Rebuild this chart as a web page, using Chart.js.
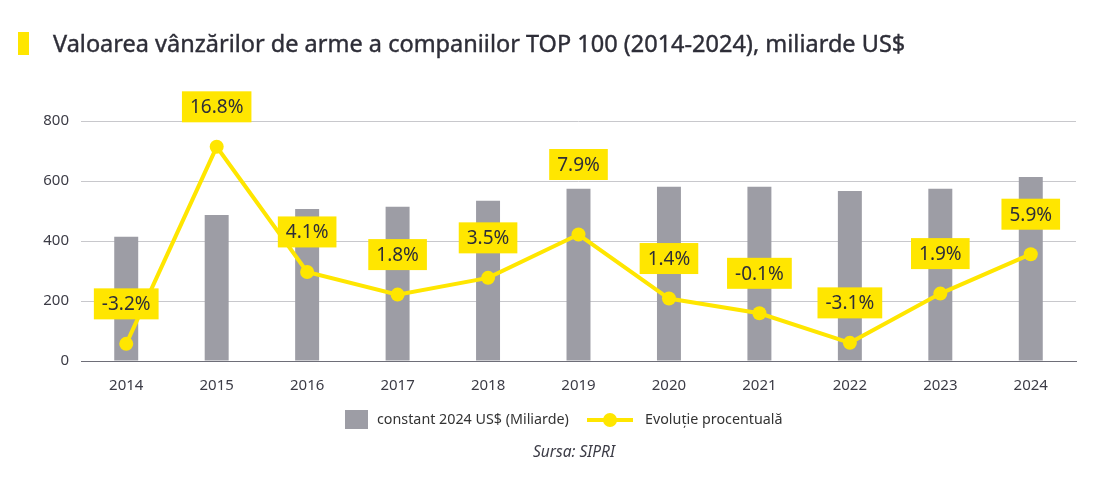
<!DOCTYPE html>
<html lang="ro">
<head>
<meta charset="UTF-8">
<title>Valoarea vânzărilor de arme a companiilor TOP 100</title>
<script src="https://cdn.jsdelivr.net/npm/chart.js"></script>
<style>
  body { margin: 0; background: #fff; font-family: "Noto Sans", sans-serif; }
  #wrap { position: relative; width: 1107px; height: 484px; overflow: hidden; }
  #salesChart { position: absolute; left: 0; top: 0; }
  .title { position: absolute; left: 53px; top: 27px; font-size: 23.5px; font-weight: 400; -webkit-text-stroke: 0.4px #2e2e38; color: #2e2e38; white-space: nowrap; }
  .title-mark { position: absolute; left: 18px; top: 32px; width: 11px; height: 23px; background: #ffe600; }
  .legend { position: absolute; top: 409px; left: 345px; font-size: 14.3px; color: #333; white-space: nowrap; }
  .legend span { position: absolute; top: 0; }
  .box { left: 0; width: 23px; height: 19px; background: #9d9da5; margin-top: 1px; }
  .lg-line { left: 242px; top: 9px !important; width: 46px; height: 4px; background: #ffe600; }
  .lg-dot { left: 258px; top: 4px !important; width: 14px; height: 14px; border-radius: 50%; background: #ffe600; }
  .source { position: absolute; top: 440px; left: 0; width: 1148px; text-align: center; font-size: 15.5px; font-style: italic; color: #3c3c46; }
</style>
</head>
<body>
<div id="wrap">
  <canvas id="salesChart" width="1107" height="484"></canvas>
  <div class="title-mark"></div>
  <div class="title">Valoarea vânzărilor de arme a companiilor TOP 100 (2014-2024), miliarde US$</div>
  <div class="legend">
    <span class="box"></span>
    <span style="left:32px; top:0;">constant 2024 US$ (Miliarde)</span>
    <span class="lg-line"></span>
    <span class="lg-dot"></span>
    <span style="left:300px; top:0;">Evoluție procentuală</span>
  </div>
  <div class="source">Sursa: SIPRI</div>
</div>
<script>
const years = ['2014', '2015', '2016', '2017', '2018', '2019', '2020', '2021', '2022', '2023', '2024'];
const salesBn = [414, 487, 507, 514, 534, 574, 581, 581, 567, 574, 613];
const growthPct = [-3.2, 16.8, 4.1, 1.8, 3.5, 7.9, 1.4, -0.1, -3.1, 1.9, 5.9];
const yTicks = [0, 200, 400, 600, 800];

const YELLOW = '#ffe600';
const GREY = '#9d9da5';

// yellow boxes with the percent values above each point
const pctLabels = {
  id: 'pctLabels',
  afterDatasetsDraw(chart) {
    const ctx = chart.ctx;
    const meta = chart.getDatasetMeta(1);
    ctx.save();
    ctx.font = '19px "Noto Sans"';
    ctx.textAlign = 'center';
    ctx.textBaseline = 'middle';
    meta.data.forEach((pt, i) => {
      const txt = growthPct[i].toFixed(1) + '%';
      const lift = years[i] === '2019' ? 70 : 40;
      const w = ctx.measureText(txt).width + 16;
      const h = 31;
      const cx = pt.x, cy = pt.y - lift;
      ctx.fillStyle = YELLOW;
      ctx.fillRect(cx - w / 2, cy - h / 2, w, h);
      ctx.fillStyle = '#2e2e38';
      ctx.fillText(txt, cx, cy + 1);
    });
    ctx.restore();
  }
};

new Chart(document.getElementById('salesChart'), {
  data: {
    labels: years,
    datasets: [
      {
        type: 'bar',
        label: 'constant 2024 US$ (Miliarde)',
        data: salesBn,
        backgroundColor: GREY,
        categoryPercentage: 1,
        barPercentage: 0.265,
        yAxisID: 'y',
        order: 2
      },
      {
        type: 'line',
        label: 'Evoluție procentuală',
        data: growthPct,
        borderColor: YELLOW,
        backgroundColor: YELLOW,
        borderWidth: 4,
        pointRadius: 7,
        pointBorderWidth: 0,
        tension: 0,
        yAxisID: 'y1',
        order: 1
      }
    ]
  },
  options: {
    responsive: false,
    animation: false,
    layout: { padding: { left: 0, top: 121, right: 31, bottom: 0 } },
    plugins: {
      legend: { display: false },
      tooltip: { enabled: false }
    },
    scales: {
      x: {
        grid: { display: false },
        border: { color: '#6e6e78', width: 1 },
        ticks: { color: '#3c3c46', font: { family: 'Noto Sans', size: 15 }, padding: 8 },
        afterFit(scale) { scale.height = 123; }
      },
      y: {
        min: 0,
        max: 800,
        afterBuildTicks(scale) { scale.ticks = yTicks.map(v => ({ value: v })); },
        grid: { color: '#c8c8cc', drawTicks: false },
        border: { display: false },
        ticks: { color: '#3c3c46', font: { family: 'Noto Sans', size: 15 }, padding: 12 },
        afterFit(scale) { scale.width = 81; }
      },
      y1: {
        display: false,
        min: -4.94,
        max: 19.42
      }
    }
  },
  plugins: [pctLabels]
});
</script>
</body>
</html>
